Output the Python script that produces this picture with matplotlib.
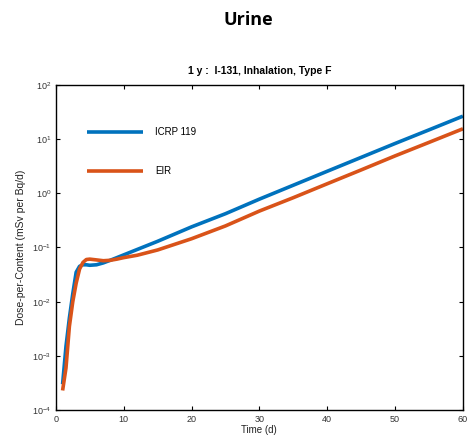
import matplotlib
matplotlib.use("Agg")
import matplotlib.pyplot as plt

t = [1, 1.5, 2, 2.5, 3, 3.5, 4, 4.5, 5, 6, 7, 8, 9, 10, 12, 15, 20, 25, 30, 35, 40, 45, 50, 55, 60]
icrp119 = [3.0e-4, 1.5e-3, 5.0e-3, 0.014, 0.035, 0.045, 0.048, 0.048, 0.047, 0.048, 0.052, 0.058, 0.065,
           0.073, 0.092, 0.13, 0.24, 0.42, 0.78, 1.41, 2.55, 4.6, 8.3, 14.8, 26.5]
eir = [2.3e-4, 6.0e-4, 3.5e-3, 0.010, 0.022, 0.040, 0.053, 0.060, 0.061, 0.059, 0.057, 0.058, 0.061,
       0.065, 0.072, 0.09, 0.145, 0.25, 0.47, 0.83, 1.5, 2.7, 4.9, 8.7, 15.5]
labels = ["ICRP 119", "EIR"]
colors = ["#0072BD", "#D95319"]

plt.rcParams['font.family'] = ['Liberation Sans', 'DejaVu Sans']
fig = plt.figure(figsize=(4.69, 4.40), dpi=100)
ax = fig.add_axes([0.119, 0.068, 0.868, 0.739])

ax.plot(t, icrp119, color=colors[0], lw=2.6, label=labels[0], solid_capstyle='butt')
ax.plot(t, eir, color=colors[1], lw=2.6, label=labels[1], solid_capstyle='butt')
ax.set_yscale('log')
ax.set_xlim(0, 60)
ax.set_ylim(1e-4, 1e2)
ax.set_xticks([0, 10, 20, 30, 40, 50, 60])
ax.set_yticks([1e-4, 1e-3, 1e-2, 1e-1, 1e0, 1e1, 1e2])
ax.minorticks_off()
ax.tick_params(direction='in', top=True, right=True, labelsize=6.5, length=3, colors='black',
               labelcolor='#333333')
for s in ax.spines.values():
    s.set_linewidth(1.0)

ax.set_xlabel("Time (d)", fontsize=7, labelpad=1, color='#222222')
ax.set_ylabel("Dose-per-Content (mSv per Bq/d)", fontsize=7.5, labelpad=4, color='#222222')
ax.set_title("1 y :  I-131, Inhalation, Type F", fontsize=7.5, fontweight='bold', pad=8)
fig.text(0.529, 0.955, "Urine", ha='center', va='center', fontsize=13, fontweight='bold',
         family=['Open Sans', 'DejaVu Sans'])

ax.legend(loc='upper left', bbox_to_anchor=(0.055, 0.897), frameon=False, fontsize=7,
          handlelength=5.8, labelspacing=3.0, handletextpad=1.2)

fig.savefig("out.png", dpi=100)
